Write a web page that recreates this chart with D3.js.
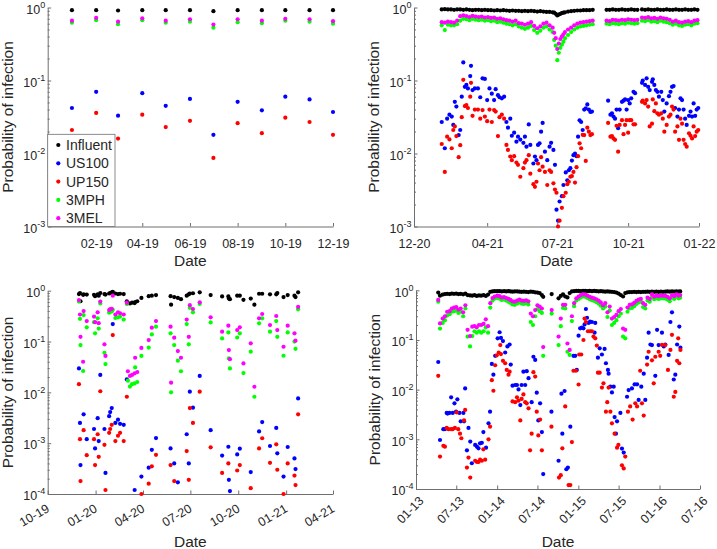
<!DOCTYPE html>
<html>
<head>
<meta charset="utf-8">
<script src="https://cdn.jsdelivr.net/npm/d3@7"></script>
<style>
  body { margin: 0; background: #fff; }
  svg text { font-family: "Liberation Sans", Arial, Helvetica, sans-serif; fill: #262626; }
  .tick text { font-size: 12.5px; }
  .axis-label { font-size: 15.5px; }
  .legend-text { font-size: 14px; }
  .axis path, .axis line { stroke: #6e6e6e; }
</style>
</head>
<body>
<svg id="chart" width="717" height="549"></svg>
<script>
/* ---------- data ---------- */
const seriesNames = ["Influent", "US100", "UP150", "3MPH", "3MEL"];

// top-left: monthly samples 2019
const tlDates = ["2019-01-01","2019-02-01","2019-03-01","2019-04-01","2019-05-01","2019-06-01","2019-07-01","2019-08-01","2019-09-01","2019-10-01","2019-11-01","2019-12-01"];
const tlInfluent = [0.92,0.92,0.91,0.92,0.92,0.92,0.89,0.92,0.92,0.92,0.92,0.92];
const tlUS100 = [0.042,0.070,0.033,0.067,0.045,0.056,0.018,0.051,0.039,0.060,0.055,0.037];
const tlUP150 = [0.021,0.036,0.016,0.034,0.023,0.028,0.0087,0.026,0.019,0.031,0.027,0.018];
const tl3MPH = [0.62,0.67,0.59,0.67,0.62,0.64,0.53,0.63,0.61,0.66,0.64,0.60];
const tl3MEL = [0.66,0.72,0.64,0.71,0.66,0.69,0.585,0.69,0.66,0.70,0.69,0.65];
const tlTicks = ["2019-02-01","2019-04-01","2019-06-01","2019-08-01","2019-10-01","2019-12-01"];

// top-right: 2021
const trUpDates = ["2021-02-01","2021-02-05","2021-02-09","2021-02-13","2021-02-17","2021-02-21","2021-02-25",
  "2021-03-01","2021-03-05","2021-03-09","2021-03-13","2021-03-17","2021-03-21","2021-03-25","2021-03-29",
  "2021-04-02","2021-04-06","2021-04-10","2021-04-14","2021-04-18","2021-04-22","2021-04-26","2021-04-30",
  "2021-05-04","2021-05-08","2021-05-12","2021-05-16","2021-05-20","2021-05-24","2021-05-28",
  "2021-06-01","2021-06-05","2021-06-09","2021-06-13","2021-06-17","2021-06-21","2021-06-25","2021-06-27","2021-06-29",
  "2021-07-01","2021-07-03","2021-07-05","2021-07-07","2021-07-09","2021-07-11","2021-07-15","2021-07-19","2021-07-23","2021-07-27","2021-07-31",
  "2021-08-04","2021-08-08","2021-08-12","2021-08-16",
  "2021-09-03","2021-09-07","2021-09-11","2021-09-15","2021-09-19","2021-09-23","2021-09-27","2021-10-01","2021-10-05","2021-10-09","2021-10-13",
  "2021-10-19","2021-10-23","2021-10-27","2021-10-31","2021-11-04","2021-11-08","2021-11-12","2021-11-16","2021-11-20","2021-11-24","2021-11-28",
  "2021-12-02","2021-12-06","2021-12-10","2021-12-14","2021-12-18","2021-12-22","2021-12-26","2021-12-30"];
const trInfluent = [0.94,0.95,0.94,0.94,0.93,0.94,0.94,
  0.93,0.94,0.93,0.92,0.93,0.93,0.92,0.93,
  0.92,0.92,0.91,0.92,0.91,0.92,0.91,0.90,
  0.91,0.90,0.90,0.89,0.90,0.89,0.90,
  0.89,0.88,0.89,0.88,0.87,0.87,0.86,0.85,0.82,
  0.78,0.80,0.82,0.84,0.85,0.86,0.88,0.89,0.90,0.91,0.91,
  0.92,0.92,0.92,0.93,
  0.93,0.93,0.94,0.93,0.93,0.94,0.93,0.93,0.94,0.93,0.93,
  0.94,0.93,0.94,0.93,0.93,0.94,0.93,0.93,0.94,0.93,0.93,
  0.94,0.93,0.93,0.94,0.93,0.93,0.94,0.93];
const tr3MEL = [0.63,0.62,0.64,0.63,0.62,0.66,0.76,
  0.78,0.76,0.74,0.77,0.75,0.74,0.75,0.73,
  0.74,0.72,0.73,0.70,0.71,0.69,0.67,0.66,
  0.64,0.66,0.61,0.60,0.58,0.60,0.63,
  0.56,0.52,0.55,0.60,0.62,0.57,0.53,0.45,0.38,
  0.27,0.32,0.37,0.40,0.43,0.46,0.50,0.53,0.57,0.60,0.62,
  0.63,0.64,0.65,0.66,
  0.66,0.65,0.68,0.67,0.66,0.68,0.67,0.69,0.68,0.67,0.68,
  0.73,0.72,0.74,0.71,0.72,0.70,0.73,0.71,0.70,0.68,0.64,
  0.66,0.63,0.62,0.64,0.65,0.63,0.66,0.67];
const tr3MPH = [0.57,0.49,0.58,0.57,0.57,0.59,0.66,
  0.70,0.69,0.67,0.70,0.68,0.67,0.68,0.66,
  0.67,0.65,0.66,0.63,0.64,0.62,0.60,0.59,
  0.57,0.59,0.55,0.53,0.51,0.53,0.56,
  0.49,0.45,0.48,0.53,0.55,0.50,0.46,0.36,0.30,
  0.19,0.24,0.28,0.31,0.34,0.38,0.42,0.46,0.50,0.53,0.55,
  0.56,0.57,0.58,0.59,
  0.60,0.59,0.61,0.60,0.59,0.61,0.60,0.62,0.61,0.60,0.61,
  0.66,0.65,0.67,0.64,0.65,0.63,0.66,0.64,0.63,0.61,0.58,
  0.60,0.57,0.56,0.58,0.59,0.57,0.60,0.61];
const trLowDates = ["2021-02-01","2021-02-05","2021-02-08","2021-02-11","2021-02-14","2021-02-16","2021-02-18","2021-02-20","2021-02-23","2021-02-25","2021-02-27",
  "2021-03-01","2021-03-03","2021-03-05","2021-03-07","2021-03-10","2021-03-11","2021-03-13","2021-03-16","2021-03-20","2021-03-23","2021-03-26","2021-03-29",
  "2021-04-01","2021-04-04","2021-04-07","2021-04-10","2021-04-12","2021-04-15","2021-04-17","2021-04-20","2021-04-23","2021-04-26","2021-04-28",
  "2021-05-01","2021-05-03","2021-05-06","2021-05-09","2021-05-11","2021-05-14","2021-05-18","2021-05-20","2021-05-22","2021-05-25","2021-05-27","2021-05-31",
  "2021-06-02","2021-06-04","2021-06-06","2021-06-08","2021-06-10","2021-06-12","2021-06-15","2021-06-18","2021-06-21","2021-06-23","2021-06-26","2021-06-28","2021-06-30",
  "2021-07-02","2021-07-04","2021-07-07","2021-07-09","2021-07-12","2021-07-14","2021-07-16","2021-07-18","2021-07-20","2021-07-22","2021-07-24","2021-07-26","2021-07-28","2021-07-30",
  "2021-08-01","2021-08-03","2021-08-05","2021-08-07","2021-08-09","2021-08-11","2021-08-13","2021-08-15",
  "2021-09-05","2021-09-08","2021-09-10","2021-09-12","2021-09-14","2021-09-16","2021-09-18","2021-09-20","2021-09-23","2021-09-25","2021-09-27","2021-09-29",
  "2021-10-01","2021-10-03","2021-10-05","2021-10-08","2021-10-10",
  "2021-10-19","2021-10-20","2021-10-23","2021-10-25","2021-10-27","2021-10-29",
  "2021-11-01","2021-11-02","2021-11-04","2021-11-06","2021-11-08","2021-11-10","2021-11-13","2021-11-15","2021-11-17","2021-11-20","2021-11-23","2021-11-25","2021-11-27","2021-11-29",
  "2021-12-01","2021-12-04","2021-12-06","2021-12-08","2021-12-10","2021-12-12","2021-12-14","2021-12-16","2021-12-19","2021-12-21","2021-12-23","2021-12-25","2021-12-27","2021-12-29","2021-12-31"];
const trUS100 = [0.027,0.0118,0.030,0.034,0.032,0.0246,0.051,0.044,0.0179,0.021,0.060,
  0.177,0.082,0.087,0.078,0.115,0.159,0.074,0.078,0.078,0.059,0.107,0.105,
  0.054,0.078,0.066,0.054,0.076,0.063,0.059,0.057,0.060,0.027,0.0226,
  0.030,0.0175,0.0193,0.0145,0.017,0.0155,0.014,0.017,0.0124,0.025,0.0131,0.0073,
  0.0091,0.0081,0.0131,0.0138,0.0199,0.0262,0.0106,0.0081,0.0124,0.014,0.0112,0.0070,0.0017,
  0.0012,0.0022,0.0026,0.0037,0.0055,0.0043,0.0059,0.0063,0.0080,0.0095,0.0100,0.0092,0.017,0.0285,
  0.027,0.021,0.040,0.0415,0.047,0.040,0.037,0.0375,
  0.053,0.034,0.0355,0.032,0.030,0.040,0.0222,0.040,0.051,0.053,0.055,0.040,
  0.054,0.0485,0.057,0.070,0.067,
  0.093,0.0997,0.087,0.107,0.082,0.074,
  0.096,0.104,0.087,0.074,0.070,0.060,0.070,0.054,0.0375,0.0485,0.061,0.070,0.082,0.084,
  0.042,0.032,0.040,0.057,0.054,0.040,0.030,0.0246,0.0328,0.0375,0.032,0.0485,0.0328,0.040,0.042];
const trUP150 = [0.0135,0.0056,0.017,0.0156,0.0118,0.021,0.0235,0.0173,0.0089,0.013,0.0314,
  0.102,0.0446,0.046,0.042,0.060,0.093,0.0328,0.040,0.040,0.030,0.0393,0.032,
  0.0277,0.040,0.027,0.0393,0.0375,0.0173,0.0314,0.034,0.030,0.0131,0.0112,
  0.0091,0.0081,0.0092,0.0075,0.0070,0.0048,0.0063,0.0075,0.0081,0.0095,0.0053,0.0038,
  0.0035,0.0041,0.0073,0.0059,0.0089,0.0066,0.0056,0.0037,0.0059,0.0056,0.0039,0.0032,0.0029,
  0.0010,0.0012,0.0018,0.0026,0.0029,0.0038,0.0041,0.0048,0.0049,0.0056,0.0040,0.0065,0.0092,0.0138,
  0.0118,0.018,0.0179,0.0079,0.0226,0.0199,0.0179,0.0184,
  0.0262,0.017,0.0173,0.0161,0.0154,0.024,0.0106,0.0246,0.0286,0.0184,0.0246,0.0286,
  0.0193,0.0286,0.0286,0.0251,0.0251,
  0.051,0.053,0.0485,0.054,0.044,0.0235,
  0.0256,0.055,0.038,0.0485,0.0355,0.034,0.0355,0.030,0.0199,0.0246,0.032,0.034,0.044,0.040,
  0.0199,0.0235,0.0154,0.030,0.0256,0.0154,0.0135,0.0124,0.0189,0.0175,0.0161,0.0235,0.0173,0.0199,0.021];
const trTicks = ["2020-12-27","2021-04-01","2021-07-01","2021-10-01","2022-01-01"];

// bottom-left: 2019-2021 (null = not plotted)
const blDates = ["2019-11-30","2019-12-02","2019-12-03","2019-12-08","2019-12-09","2019-12-15","2019-12-29","2019-12-31",
  "2020-01-05","2020-01-07","2020-01-10","2020-01-18","2020-01-20","2020-01-27","2020-01-29","2020-02-01","2020-02-03",
  "2020-02-08","2020-02-13","2020-02-17","2020-02-24","2020-03-01","2020-03-03","2020-03-07","2020-03-11","2020-03-16",
  "2020-03-17","2020-03-21","2020-03-29","2020-04-12","2020-04-18","2020-04-26","2020-05-24","2020-05-25","2020-05-31",
  "2020-06-07","2020-06-13","2020-06-24","2020-06-28","2020-06-30","2020-07-06","2020-07-19","2020-08-09","2020-08-31",
  "2020-09-12","2020-09-13","2020-09-15","2020-09-29","2020-10-04","2020-10-11","2020-10-25","2020-11-01","2020-11-10",
  "2020-11-16","2020-12-01","2020-12-13","2020-12-15","2020-12-27","2021-01-04","2021-01-17","2021-01-19","2021-01-24"];
const blInfluent = [0.86,0.90,0.62,0.83,0.85,0.84,0.83,0.78,
  0.85,0.80,0.90,0.86,0.84,0.88,0.90,0.93,0.95,
  0.88,0.86,0.87,0.86,0.62,0.57,0.56,0.58,0.57,
  0.60,0.62,0.72,0.78,0.80,0.82,0.78,0.53,0.75,
  0.72,0.68,0.80,0.85,0.88,0.89,0.93,0.82,0.77,
  0.77,0.70,0.68,0.80,0.80,0.66,0.70,0.53,0.87,
  0.87,0.85,0.85,0.90,0.75,0.82,0.80,0.75,0.93];
const blUS100 = [0.0296,0.0025,0.00037,null,0.0037,0.0012,0.0019,0.00079,
  0.0031,0.0011,0.022,0.0019,0.00026,0.0034,0.0041,0.0049,0.22,
  0.0025,0.0029,0.0024,0.0023,0.018,null,null,null,0.00012,
  null,null,0.00022,0.00033,0.00074,0.00126,0.00079,null,0.0004,
  0.00017,null,0.0015,0.0004,0.0103,0.005,0.021,0.0018,0.00057,
  0.00085,0.00019,0.000114,0.0006,0.00078,null,0.00027,null,0.0017,
  0.0026,0.00088,0.0020,0.00063,0.00022,0.00084,0.0005,0.00031,0.0076];
const blUP150 = [0.0145,0.0012,0.00018,null,0.0018,0.00058,0.0012,0.00037,
  0.0015,0.00054,0.0105,0.00093,0.00012,0.0016,0.0019,0.0023,0.134,
  0.0011,0.0014,0.0016,0.0011,0.0082,null,null,null,null,
  null,null,0.0001,0.00016,0.00035,0.00059,0.00037,null,0.00018,
  null,null,0.0007,0.00019,0.0049,0.0025,0.0103,0.00083,0.00026,
  0.0004,null,null,0.00029,0.00037,null,0.00013,null,0.00079,
  0.00125,0.00041,0.00095,0.0003,0.0001,0.0004,0.00023,0.00015,0.0037];
const bl3MPH = [0.61,0.28,0.085,0.0263,0.332,0.19,0.24,0.145,
  0.286,0.18,0.56,0.06,0.036,0.37,0.386,0.39,0.42,
  0.29,0.30,0.31,0.27,0.55,0.017,0.013,0.0145,0.015,
  0.031,0.016,0.052,0.076,0.138,0.196,0.145,0.010,0.085,
  0.042,0.026,0.22,0.088,0.46,0.375,0.55,0.238,0.115,
  0.151,0.0465,0.0296,0.12,0.145,0.024,0.063,0.0082,0.228,
  0.286,0.156,0.253,0.124,0.0525,0.151,0.10,0.072,0.43];
const bl3MEL = [0.655,0.34,0.124,0.04,0.398,0.253,0.31,0.24,
  0.375,0.23,0.61,0.088,0.052,0.416,0.436,0.44,0.80,
  0.34,0.375,0.36,0.34,0.58,0.026,0.021,0.022,0.0237,
  0.048,0.025,0.075,0.107,0.187,0.253,0.196,0.0155,0.119,
  0.065,0.048,0.27,0.124,0.52,0.436,0.59,0.30,0.156,
  0.205,0.068,0.045,0.168,0.19,0.037,0.092,0.0129,0.286,
  0.348,0.211,0.318,0.168,0.079,0.205,0.145,0.104,0.48];
const blTicks = ["2019-10-01","2020-01-01","2020-04-01","2020-07-01","2020-10-01","2021-01-01","2021-04-01"];

// bottom-right: 2013-2016
const brUpDates = ["2013-04-11","2013-04-19","2013-05-01","2013-05-11","2013-05-21","2013-06-01","2013-06-11","2013-06-21",
  "2013-07-01","2013-07-11","2013-07-21","2013-08-01","2013-08-11","2013-08-21","2013-09-01","2013-09-11","2013-09-21",
  "2013-10-01","2013-10-11","2013-10-21","2013-11-01","2013-11-11","2013-11-21","2013-12-01","2013-12-11","2013-12-21",
  "2014-01-01","2014-01-11","2014-01-21","2014-02-01","2014-02-11","2014-02-21","2014-03-01","2014-03-11","2014-03-21",
  "2014-04-01","2014-04-11","2014-04-21","2014-05-01","2014-05-11","2014-05-21","2014-06-01","2014-06-11","2014-06-21",
  "2014-07-01","2014-07-11","2014-07-21","2014-07-27",
  "2014-09-03",
  "2014-10-04","2014-10-14","2014-10-24","2014-11-03","2014-11-13","2014-11-23","2014-12-03","2014-12-13","2014-12-23",
  "2015-01-02","2015-01-12","2015-01-22","2015-02-01","2015-02-11","2015-02-21","2015-03-03","2015-03-13","2015-03-23",
  "2015-04-02","2015-04-12","2015-04-22","2015-05-02","2015-05-12","2015-05-22","2015-06-01","2015-06-11","2015-06-21",
  "2015-07-01","2015-07-11","2015-07-21","2015-07-31","2015-08-10","2015-08-20","2015-08-30","2015-09-09","2015-09-19",
  "2015-09-29","2015-10-09","2015-10-19","2015-10-29","2015-11-08","2015-11-18","2015-11-28","2015-12-08","2015-12-18",
  "2015-12-28","2016-01-07","2016-01-17","2016-01-27","2016-02-06","2016-02-16","2016-02-26","2016-03-07","2016-03-17",
  "2016-03-27","2016-04-03"];
const brInfluent = [0.90,0.78,0.82,0.84,0.85,0.84,0.86,0.85,
  0.86,0.84,0.85,0.83,0.86,0.80,0.79,0.78,0.80,
  0.77,0.79,0.78,0.80,0.77,0.82,0.93,0.95,0.96,
  0.96,0.96,0.95,0.96,0.95,0.96,0.95,0.94,0.95,
  0.95,0.94,0.93,0.94,0.93,0.92,0.94,0.93,0.91,
  0.90,0.88,0.80,0.74,
  0.84,
  0.69,0.77,0.83,0.75,0.72,0.88,0.95,0.96,0.97,
  0.97,0.96,0.97,0.97,0.96,0.97,0.96,0.97,0.96,
  0.95,0.96,0.95,0.94,0.95,0.94,0.93,0.92,0.90,
  0.86,0.80,0.75,0.88,0.91,0.92,0.92,0.93,0.92,
  0.93,0.92,0.93,0.93,0.94,0.93,0.94,0.93,0.94,
  0.93,0.94,0.93,0.94,0.95,0.94,0.95,0.94,0.95,
  0.94,0.95];
const br3MEL = [0.64,0.215,0.27,0.30,0.37,0.38,0.43,0.45,
  0.46,0.41,0.43,0.36,0.50,0.16,0.12,0.185,0.19,
  0.18,0.20,0.20,0.21,0.26,0.19,0.55,0.70,0.75,
  0.78,0.76,0.72,0.73,0.70,0.67,0.64,0.60,0.59,
  0.62,0.65,0.62,0.61,0.63,0.60,0.34,0.30,0.40,
  0.50,0.47,0.43,0.072,
  0.40,
  0.117,0.27,0.51,0.51,0.085,0.063,0.30,0.55,0.69,
  0.75,0.80,0.83,0.82,0.78,0.74,0.71,0.69,0.66,
  0.62,0.57,0.50,0.55,0.36,0.47,0.27,0.29,0.32,
  0.38,0.42,0.17,0.16,0.45,0.51,0.52,0.56,0.61,
  0.65,0.67,0.55,0.51,0.71,0.67,0.83,0.745,0.78,
  0.76,0.78,0.78,0.77,0.74,0.69,0.80,0.76,0.83,
  0.78,0.80];
const br3MPH = [0.59,0.17,0.22,0.25,0.31,0.33,0.37,0.38,
  0.39,0.35,0.37,0.30,0.43,0.117,0.074,0.12,0.15,
  0.14,0.15,0.14,0.15,0.18,0.14,0.45,0.62,0.68,
  0.70,0.68,0.64,0.65,0.62,0.59,0.56,0.52,0.51,
  0.54,0.57,0.54,0.53,0.55,0.52,0.23,0.20,0.30,
  0.42,0.38,0.35,0.048,
  0.34,
  0.079,0.19,0.44,0.43,0.058,0.05,0.24,0.48,0.62,
  0.67,0.72,0.75,0.74,0.70,0.66,0.63,0.61,0.58,
  0.54,0.49,0.43,0.47,0.29,0.39,0.20,0.22,0.25,
  0.30,0.34,0.117,0.108,0.37,0.43,0.44,0.48,0.53,
  0.57,0.59,0.46,0.43,0.62,0.59,0.74,0.66,0.69,
  0.67,0.69,0.69,0.68,0.65,0.60,0.71,0.67,0.74,
  0.69,0.71];
const brUSDates = ["2013-04-11","2013-04-19","2013-05-04","2013-05-11","2013-05-19","2013-05-23","2013-05-31","2013-06-08","2013-06-15","2013-06-23","2013-06-30",
  "2013-07-06","2013-07-15","2013-07-21","2013-08-02","2013-08-05","2013-08-10","2013-08-18","2013-08-25","2013-09-02","2013-09-09","2013-09-24",
  "2013-10-02","2013-10-09","2013-10-16","2013-10-24","2013-10-31","2013-11-12","2013-11-23","2013-11-30","2013-12-08","2013-12-15","2013-12-23",
  "2014-01-03","2014-01-12","2014-01-18","2014-01-27","2014-02-06","2014-02-16","2014-02-26","2014-03-03","2014-03-11","2014-03-23","2014-03-31",
  "2014-04-07","2014-04-15","2014-04-21","2014-04-29","2014-05-07","2014-05-14","2014-05-22","2014-06-05","2014-06-13","2014-06-21","2014-06-28",
  "2014-07-05","2014-07-13","2014-07-21","2014-07-27","2014-09-02","2014-10-04","2014-10-17","2014-10-21","2014-10-31","2014-11-08","2014-11-15",
  "2014-11-26","2014-12-10","2014-12-18","2014-12-25","2015-01-02","2015-01-09","2015-01-17","2015-01-24","2015-01-29","2015-02-04","2015-02-09",
  "2015-02-16","2015-02-23","2015-03-03","2015-03-15","2015-03-18","2015-03-30","2015-04-07","2015-04-17","2015-04-29","2015-05-05","2015-05-14",
  "2015-05-17","2015-05-25","2015-06-01","2015-06-09","2015-06-13","2015-06-19","2015-06-24","2015-07-09","2015-07-16","2015-07-24","2015-08-08",
  "2015-08-15","2015-08-30","2015-09-11","2015-09-22","2015-09-29","2015-10-11","2015-10-22","2015-10-29","2015-11-06","2015-11-13","2015-11-21",
  "2015-11-28","2015-12-13","2015-12-21","2015-12-28","2016-01-12","2016-01-20","2016-01-27","2016-02-11","2016-02-19","2016-02-26","2016-03-05",
  "2016-03-12","2016-03-20","2016-03-30","2016-04-04"];
const brUS100 = [0.036,0.00097,0.0016,0.0016,0.0034,0.0033,0.0034,0.0070,0.0034,0.0053,0.0036,
  0.0064,0.0034,0.0023,0.0034,0.0023,0.0106,0.0006,0.0017,0.0009,0.00033,0.00077,
  0.00071,0.00066,0.00083,0.00085,0.0014,0.00068,0.0021,0.0036,0.033,0.020,0.048,
  0.108,0.143,0.11,0.095,0.056,0.074,0.081,0.032,0.012,0.0124,0.0124,
  0.0101,0.0049,0.0124,0.023,0.0124,0.0236,0.017,0.0056,0.046,0.0396,0.0087,
  0.0024,0.0053,0.0014,0.0002,0.0036,0.00037,0.0083,0.0013,0.0094,0.00025,0.00027,
  0.0018,0.048,0.048,0.025,0.122,0.172,0.177,0.172,0.206,0.42,0.28,
  0.22,0.234,0.23,0.14,0.22,0.044,0.068,0.051,0.066,0.034,0.025,
  0.021,0.0115,0.0088,0.0115,0.0028,0.0013,0.0023,0.0034,0.00065,0.00054,0.0072,
  0.0098,0.0106,0.0128,0.0128,0.0062,0.0115,0.021,0.0062,0.044,0.14,0.081,
  0.079,0.019,0.16,0.079,0.14,0.074,0.081,0.05,0.23,0.36,0.016,
  0.02,0.081,0.186,0.07];
const brUPDates = ["2013-04-11","2013-04-19","2013-05-04","2013-05-11","2013-05-19","2013-05-27","2013-06-08","2013-06-15","2013-06-25","2013-07-03","2013-07-10",
  "2013-07-18","2013-07-24","2013-08-05","2013-08-10","2013-08-18","2013-08-25","2013-09-02","2013-09-24","2013-10-02","2013-10-09","2013-10-16",
  "2013-10-24","2013-10-31","2013-11-08","2013-11-23","2013-11-30","2013-12-08","2013-12-15","2013-12-23","2013-12-30",
  "2014-01-08","2014-01-15","2014-01-18","2014-01-27","2014-02-06","2014-02-13","2014-02-21","2014-02-26","2014-03-11","2014-03-23","2014-03-31",
  "2014-04-07","2014-04-15","2014-04-21","2014-04-29","2014-05-07","2014-05-14","2014-05-22","2014-05-29","2014-06-05","2014-06-13","2014-06-21",
  "2014-06-28","2014-07-05","2014-07-13","2014-07-21","2014-09-02","2014-10-06","2014-10-14","2014-10-21","2014-11-03","2014-11-18","2014-11-26",
  "2014-12-03","2014-12-10","2014-12-21",
  "2015-01-02","2015-01-05","2015-01-14","2015-01-24","2015-01-29","2015-02-04","2015-02-13","2015-02-23","2015-03-03","2015-03-10","2015-03-18",
  "2015-03-25","2015-03-30","2015-04-07","2015-04-17","2015-04-24","2015-05-05","2015-05-11","2015-05-17","2015-05-25","2015-06-01","2015-06-13",
  "2015-06-24","2015-06-30","2015-07-16","2015-07-24","2015-07-31","2015-08-12","2015-08-22","2015-09-02","2015-09-14","2015-09-22","2015-10-06",
  "2015-10-14","2015-10-22","2015-11-06","2015-11-13","2015-11-28","2015-12-06","2015-12-13","2015-12-28",
  "2016-01-04","2016-01-12","2016-01-27","2016-02-08","2016-02-19","2016-02-26","2016-03-05","2016-03-12","2016-03-20","2016-03-25","2016-03-30","2016-04-04"];
const brUP150 = [0.019,0.00045,0.00074,0.00071,0.0017,0.0016,0.0016,0.0016,0.0017,0.0035,0.0016,
  0.0013,0.00105,0.0024,0.0039,0.00027,0.00043,0.00017,0.00037,0.00035,0.00035,0.00039,
  0.00037,0.00063,0.00039,0.001,0.0018,0.0155,0.0095,0.031,0.049,
  0.056,0.079,0.052,0.038,0.034,0.025,0.02,0.023,0.0058,0.0056,0.007,
  0.006,0.0024,0.0065,0.008,0.0056,0.0053,0.0042,0.0006,0.0013,0.0225,0.0183,
  0.0036,0.0012,0.0025,0.0006,0.0018,0.00017,0.00019,0.00066,0.0046,0.00012,0.00012,
  0.00088,0.024,0.024,
  0.0127,0.051,0.051,0.10,0.27,0.23,0.15,0.15,0.15,0.117,0.108,
  0.077,0.022,0.022,0.011,0.0134,0.0036,0.0056,0.011,0.0036,0.0021,0.0013,
  0.00068,0.00077,0.0003,0.00026,0.00045,0.0036,0.0046,0.0025,0.0053,0.0046,0.024,
  0.0053,0.003,0.032,0.058,0.039,0.0134,0.046,0.058,
  0.048,0.08,0.079,0.025,0.063,0.127,0.0072,0.009,0.038,0.108,0.034,0.063];
const brTicks = ["2013-01-01","2013-07-01","2014-01-01","2014-07-01","2015-01-01","2015-07-01","2016-01-01","2016-07-01"];

/* ---------- setup ---------- */
const COLORS = { "Influent": "#000000", "US100": "#0000ff", "UP150": "#ff0000", "3MPH": "#00ff00", "3MEL": "#ff00ff" };
const parseDate = d3.timeParse("%Y-%m-%d");
const fmtMonth = d3.timeFormat("%m-%y");
const MARKER_R = 2.1;

const svg = d3.select("#chart");
svg.append("rect").attr("width", 717).attr("height", 549).attr("fill", "#fff");

function pts(name, dates, values) {
  return { name, points: dates.map((d, i) => ({ date: parseDate(d), value: values[i] })).filter(p => p.value != null) };
}

const panels = [
  { left: 47.7, right: 333, top: 7.5, bottom: 226.5, yMin: 1e-3,
    xDomain: ["2018-12-01", "2019-12-01"], xTicks: tlTicks, rotate: 0,
    yLabelX: 12.5, dateY: 265.5, legend: true,
    series: [pts("Influent", tlDates, tlInfluent), pts("US100", tlDates, tlUS100), pts("UP150", tlDates, tlUP150),
             pts("3MPH", tlDates, tl3MPH), pts("3MEL", tlDates, tl3MEL)] },
  { left: 414, right: 699, top: 7.5, bottom: 226.5, yMin: 1e-3,
    xDomain: ["2020-12-27", "2022-01-01"], xTicks: trTicks, rotate: 0,
    yLabelX: 378.7, dateY: 265.5,
    series: [pts("Influent", trUpDates, trInfluent), pts("US100", trLowDates, trUS100), pts("UP150", trLowDates, trUP150),
             pts("3MPH", trUpDates, tr3MPH), pts("3MEL", trUpDates, tr3MEL)] },
  { left: 47.7, right: 333, top: 290.7, bottom: 494, yMin: 1e-4,
    xDomain: ["2019-10-01", "2021-04-01"], xTicks: blTicks, rotate: -30, labelDx: 2, labelDy: 17,
    yLabelX: 12.5, dateY: 547,
    series: [pts("Influent", blDates, blInfluent), pts("US100", blDates, blUS100), pts("UP150", blDates, blUP150),
             pts("3MPH", blDates, bl3MPH), pts("3MEL", blDates, bl3MEL)] },
  { left: 416, right: 700, top: 290.3, bottom: 489, yMin: 1e-4,
    xDomain: ["2013-01-01", "2016-07-01"], xTicks: brTicks, rotate: -45, labelDx: 8, labelDy: 12.6,
    yLabelX: 379.5, dateY: 547,
    series: [pts("Influent", brUpDates, brInfluent), pts("US100", brUSDates, brUS100), pts("UP150", brUPDates, brUP150),
             pts("3MPH", brUpDates, br3MPH), pts("3MEL", brUpDates, br3MEL)] }
];

function drawPanel(p) {
  const x = d3.scaleTime().domain(p.xDomain.map(parseDate)).range([p.left, p.right]);
  const y = d3.scaleLog().domain([p.yMin, 1]).range([p.bottom, p.top]);
  const g = svg.append("g");

  const lo = Math.round(Math.log10(p.yMin));
  const majors = d3.range(lo, 1).map(e => Math.pow(10, e));
  const minors = [];
  d3.range(lo, 0).forEach(e => { for (let k = 2; k < 10; k++) minors.push(k * Math.pow(10, e)); });

  // y axis (ticks point inward)
  const yg = g.append("g").attr("class", "axis").attr("transform", `translate(${p.left},0)`)
    .call(d3.axisLeft(y).tickValues(majors).tickSizeInner(-3.5).tickSizeOuter(0).tickPadding(2.5).tickFormat(""))
    .attr("font-family", null).attr("font-size", null);
  yg.selectAll(".tick text").each(function (d) {
    const t = d3.select(this).attr("dy", null).attr("y", 5.7);
    t.append("tspan").text("10");
    t.append("tspan").attr("dy", -6).attr("font-size", 9).text(Math.round(Math.log10(d)));
  });
  g.append("g").attr("class", "axis").attr("transform", `translate(${p.left},0)`)
    .call(d3.axisLeft(y).tickValues(minors).tickSizeInner(-2).tickSizeOuter(0).tickFormat(""))
    .call(a => a.select(".domain").remove());

  // x axis
  const xg = g.append("g").attr("class", "axis").attr("transform", `translate(0,${p.bottom})`)
    .call(d3.axisBottom(x).tickValues(p.xTicks.map(parseDate)).tickFormat(fmtMonth)
      .tickSizeInner(-3.5).tickSizeOuter(0))
    .attr("font-family", null).attr("font-size", null);
  const labels = xg.selectAll(".tick text");
  if (p.rotate) {
    labels.attr("x", 0).attr("y", 0).attr("dy", 0).attr("text-anchor", "end")
      .attr("transform", `translate(${p.labelDx},${p.labelDy}) rotate(${p.rotate})`);
  } else {
    labels.attr("y", 21.5).attr("dy", 0);
  }

  // axis titles
  g.append("text").attr("class", "axis-label")
    .attr("x", (p.left + p.right) / 2).attr("y", p.dateY).attr("text-anchor", "middle").text("Date");
  g.append("text").attr("class", "axis-label")
    .attr("transform", `translate(${p.yLabelX},${(p.top + p.bottom) / 2}) rotate(-90)`)
    .attr("text-anchor", "middle").text("Probability of infection");

  // markers, in legend order
  p.series.forEach(s => {
    g.append("g").selectAll("circle").data(s.points).join("circle")
      .attr("cx", d => x(d.date)).attr("cy", d => y(d.value))
      .attr("r", MARKER_R).attr("fill", COLORS[s.name]);
  });

  if (p.legend) {
    const lg = g.append("g");
    lg.append("rect").attr("x", p.left).attr("y", 134.3).attr("width", 115 - p.left).attr("height", p.bottom - 134.3)
      .attr("fill", "#fff").attr("stroke", "#6e6e6e").attr("stroke-width", 0.8);
    seriesNames.forEach((name, i) => {
      const cy = 145 + i * 18.3;
      lg.append("circle").attr("cx", 58.3).attr("cy", cy).attr("r", MARKER_R).attr("fill", COLORS[name]);
      lg.append("text").attr("class", "legend-text").attr("x", 66).attr("y", cy + 5).text(name);
    });
  }
}

panels.forEach(drawPanel);
</script>
</body>
</html>
